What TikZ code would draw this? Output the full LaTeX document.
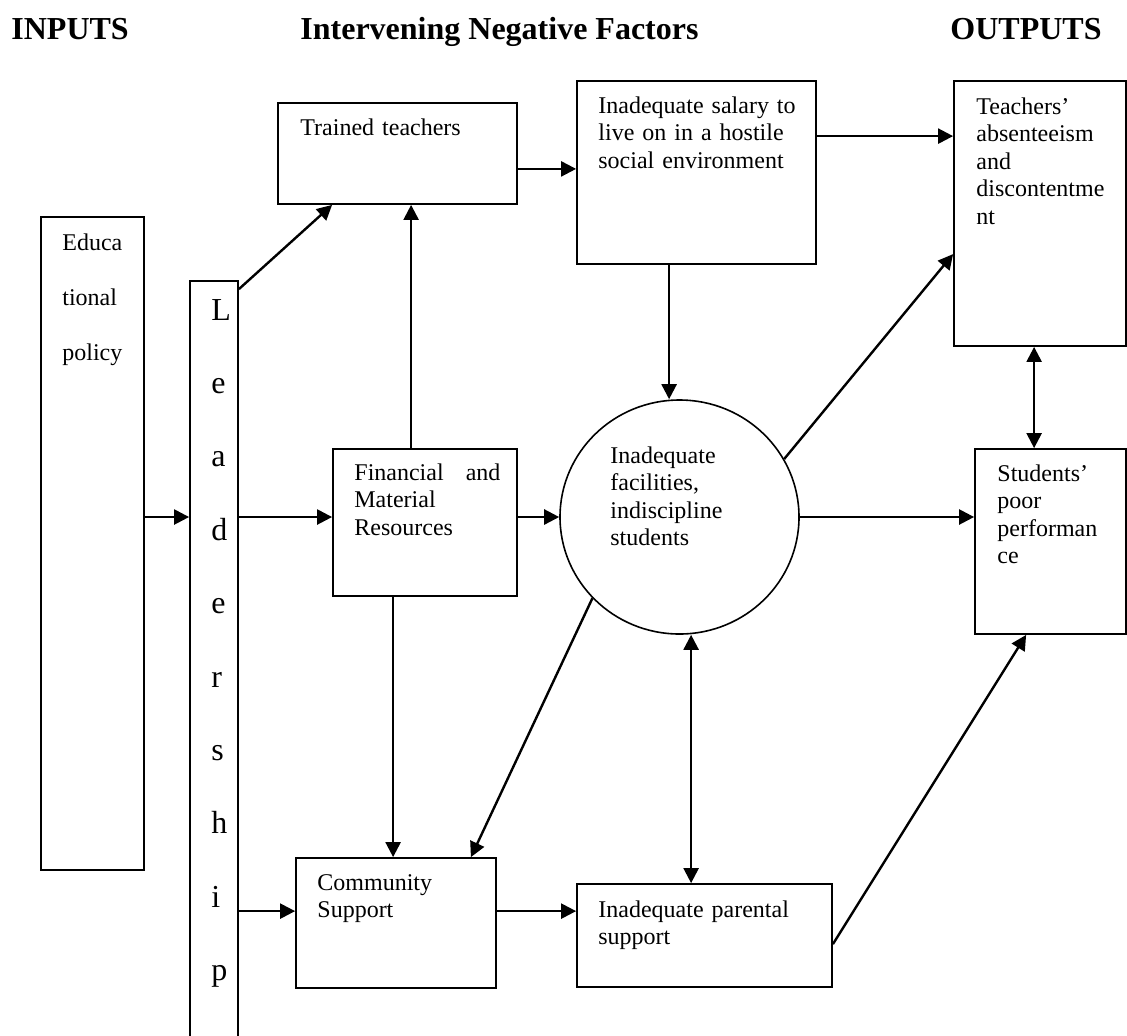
\documentclass[tikz,border=0pt]{standalone}
\usepackage{fontspec}
\setmainfont{Liberation Serif}
\usetikzlibrary{arrows.meta,positioning,fit,calc,shapes.geometric}
\newcommand{\hdr}[1]{{\fontsize{16}{18}\selectfont\bfseries #1}}

\begin{document}
\begin{tikzpicture}[
  x=0.5pt, y=-0.5pt,
  >={Triangle[length=7.5pt,width=7.5pt]},
  box/.style={draw=black, line width=0.9pt, inner sep=0pt, fill=white},
  ring/.style={ellipse, draw=black, line width=0.8pt, inner sep=0pt, fill=white},
  txt/.style={anchor=base west, inner sep=0pt, align=left, text width=#1,
              font=\fontsize{12}{13.8}\selectfont},
  txt/.default=110pt,
  hd/.style={anchor=base west, inner sep=0pt},
  arr/.style={->, draw=black, line width=1.2pt},
  barr/.style={<->, draw=black, line width=1.2pt},
]
\useasboundingbox (0,0) rectangle (1127,1035);

% ---- column headings ----
\node[hd] (hin)  at (11,39)  {\hdr{INPUTS}};
\node[hd] (hmid) at (300,39) {\hdr{Intervening Negative Factors}};
\node[hd] (hout) at (950,39) {\hdr{OUTPUTS}};

% ---- inputs ----
\node[box, fit={(41,217)(144,870)}] (edu) {};
\node[txt=40pt, font=\fontsize{12}{27.5}\selectfont] (edut) at (62,250) {Educa\\tional\\policy};
\node[box, fit={(190,281)(238,1050)}] (lead) {};
\node[txt=20pt, font=\fontsize{16}{36.7}\selectfont] (leadt) at (211,320) {L\\e\\a\\d\\e\\r\\s\\h\\i\\p};

% ---- intervening factors ----
\node[box, fit={(278,103)(517,204)}] (tt) {};
\node[txt] (ttt) at (300,135) {Trained teachers};
\node[box, fit={(577,81)(816,264)}] (sal) {};
\node[txt] (salt) at (598,113) {Inadequate salary to\\live on in a hostile\\social environment};
\node[box, fit={(333,449)(517,596)}] (fin) {};
\node[txt=73pt] (fint) at (354,480) {Financial\hfill and\\Material\\Resources};
\node[ring, minimum width=119.5pt, minimum height=117pt] (fac) at (679.5,517) {};
\node[txt] (fact) at (610,463) {Inadequate\\facilities,\\indiscipline\\students};
\node[box, fit={(296,858)(496,988)}] (com) {};
\node[txt] (comt) at (317,890) {Community\\Support};
\node[box, fit={(577,884)(832,987)}] (par) {};
\node[txt] (part) at (598,917) {Inadequate parental\\support};

% ---- outputs ----
\node[box, fit={(954,81)(1126,346)}] (tabs) {};
\node[txt] (tabst) at (976,114) {Teachers’\\absenteeism\\and\\discontentme\\nt};
\node[box, fit={(975,449)(1126,634)}] (perf) {};
\node[txt] (perft) at (997,481) {Students’\\poor\\performan\\ce};

% ---- arrows ----
\draw[arr] (edu.east |- fac.center) -- (lead.west |- fac.center);
\draw[arr] (lead.east |- fac.center) -- (fin.west |- fac.center);
\draw[arr] ($(lead.north east)+(0,9)$) -- ($(tt.south west)+(55,0)$);
\coordinate (comin) at ($(com.north west)+(0,54)$);
\draw[arr] (lead.east |- comin) -- (comin);
\draw[arr] (com.east |- comin) -- (par.west |- comin);
\coordinate (fup) at ($(fin.north west)+(79,0)$);
\draw[arr] (fup) -- (fup |- tt.south);
\coordinate (fdn) at ($(fin.south west)+(61,0)$);
\draw[arr] (fdn) -- (fdn |- com.north);
\draw[arr] (fin.east |- fac.center) -- (fac.west);
\coordinate (tsal) at ($(tt.south east)+(0,-36)$);
\draw[arr] (tsal) -- (tsal -| sal.west);
\coordinate (stab) at ($(sal.north east)+(0,56)$);
\draw[arr] (stab) -- (stab -| tabs.west);
\coordinate (sdn) at ($(sal.south west)+(93,0)$);
\draw[arr] (sdn) -- (sdn |- fac.north);
\draw[arr] (fac.29) -- ($(tabs.north west)+(0,174)$);
\draw[arr] (fac.east) -- (fac.east -| perf.west);
\draw[arr] (fac.223) -- ($(com.north east)+(-26,0)$);
% two-way links
\coordinate (pup) at ($(par.north west)+(115,0)$);
\draw[barr] (pup) -- (pup |- fac.south);
\coordinate (tdn) at ($(tabs.south west)+(81,0)$);
\draw[barr] (tdn) -- (tdn |- perf.north);
\draw[arr] ($(par.north east)+(0,61)$) -- ($(perf.south west)+(52,0)$);

\end{tikzpicture}
\end{document}
